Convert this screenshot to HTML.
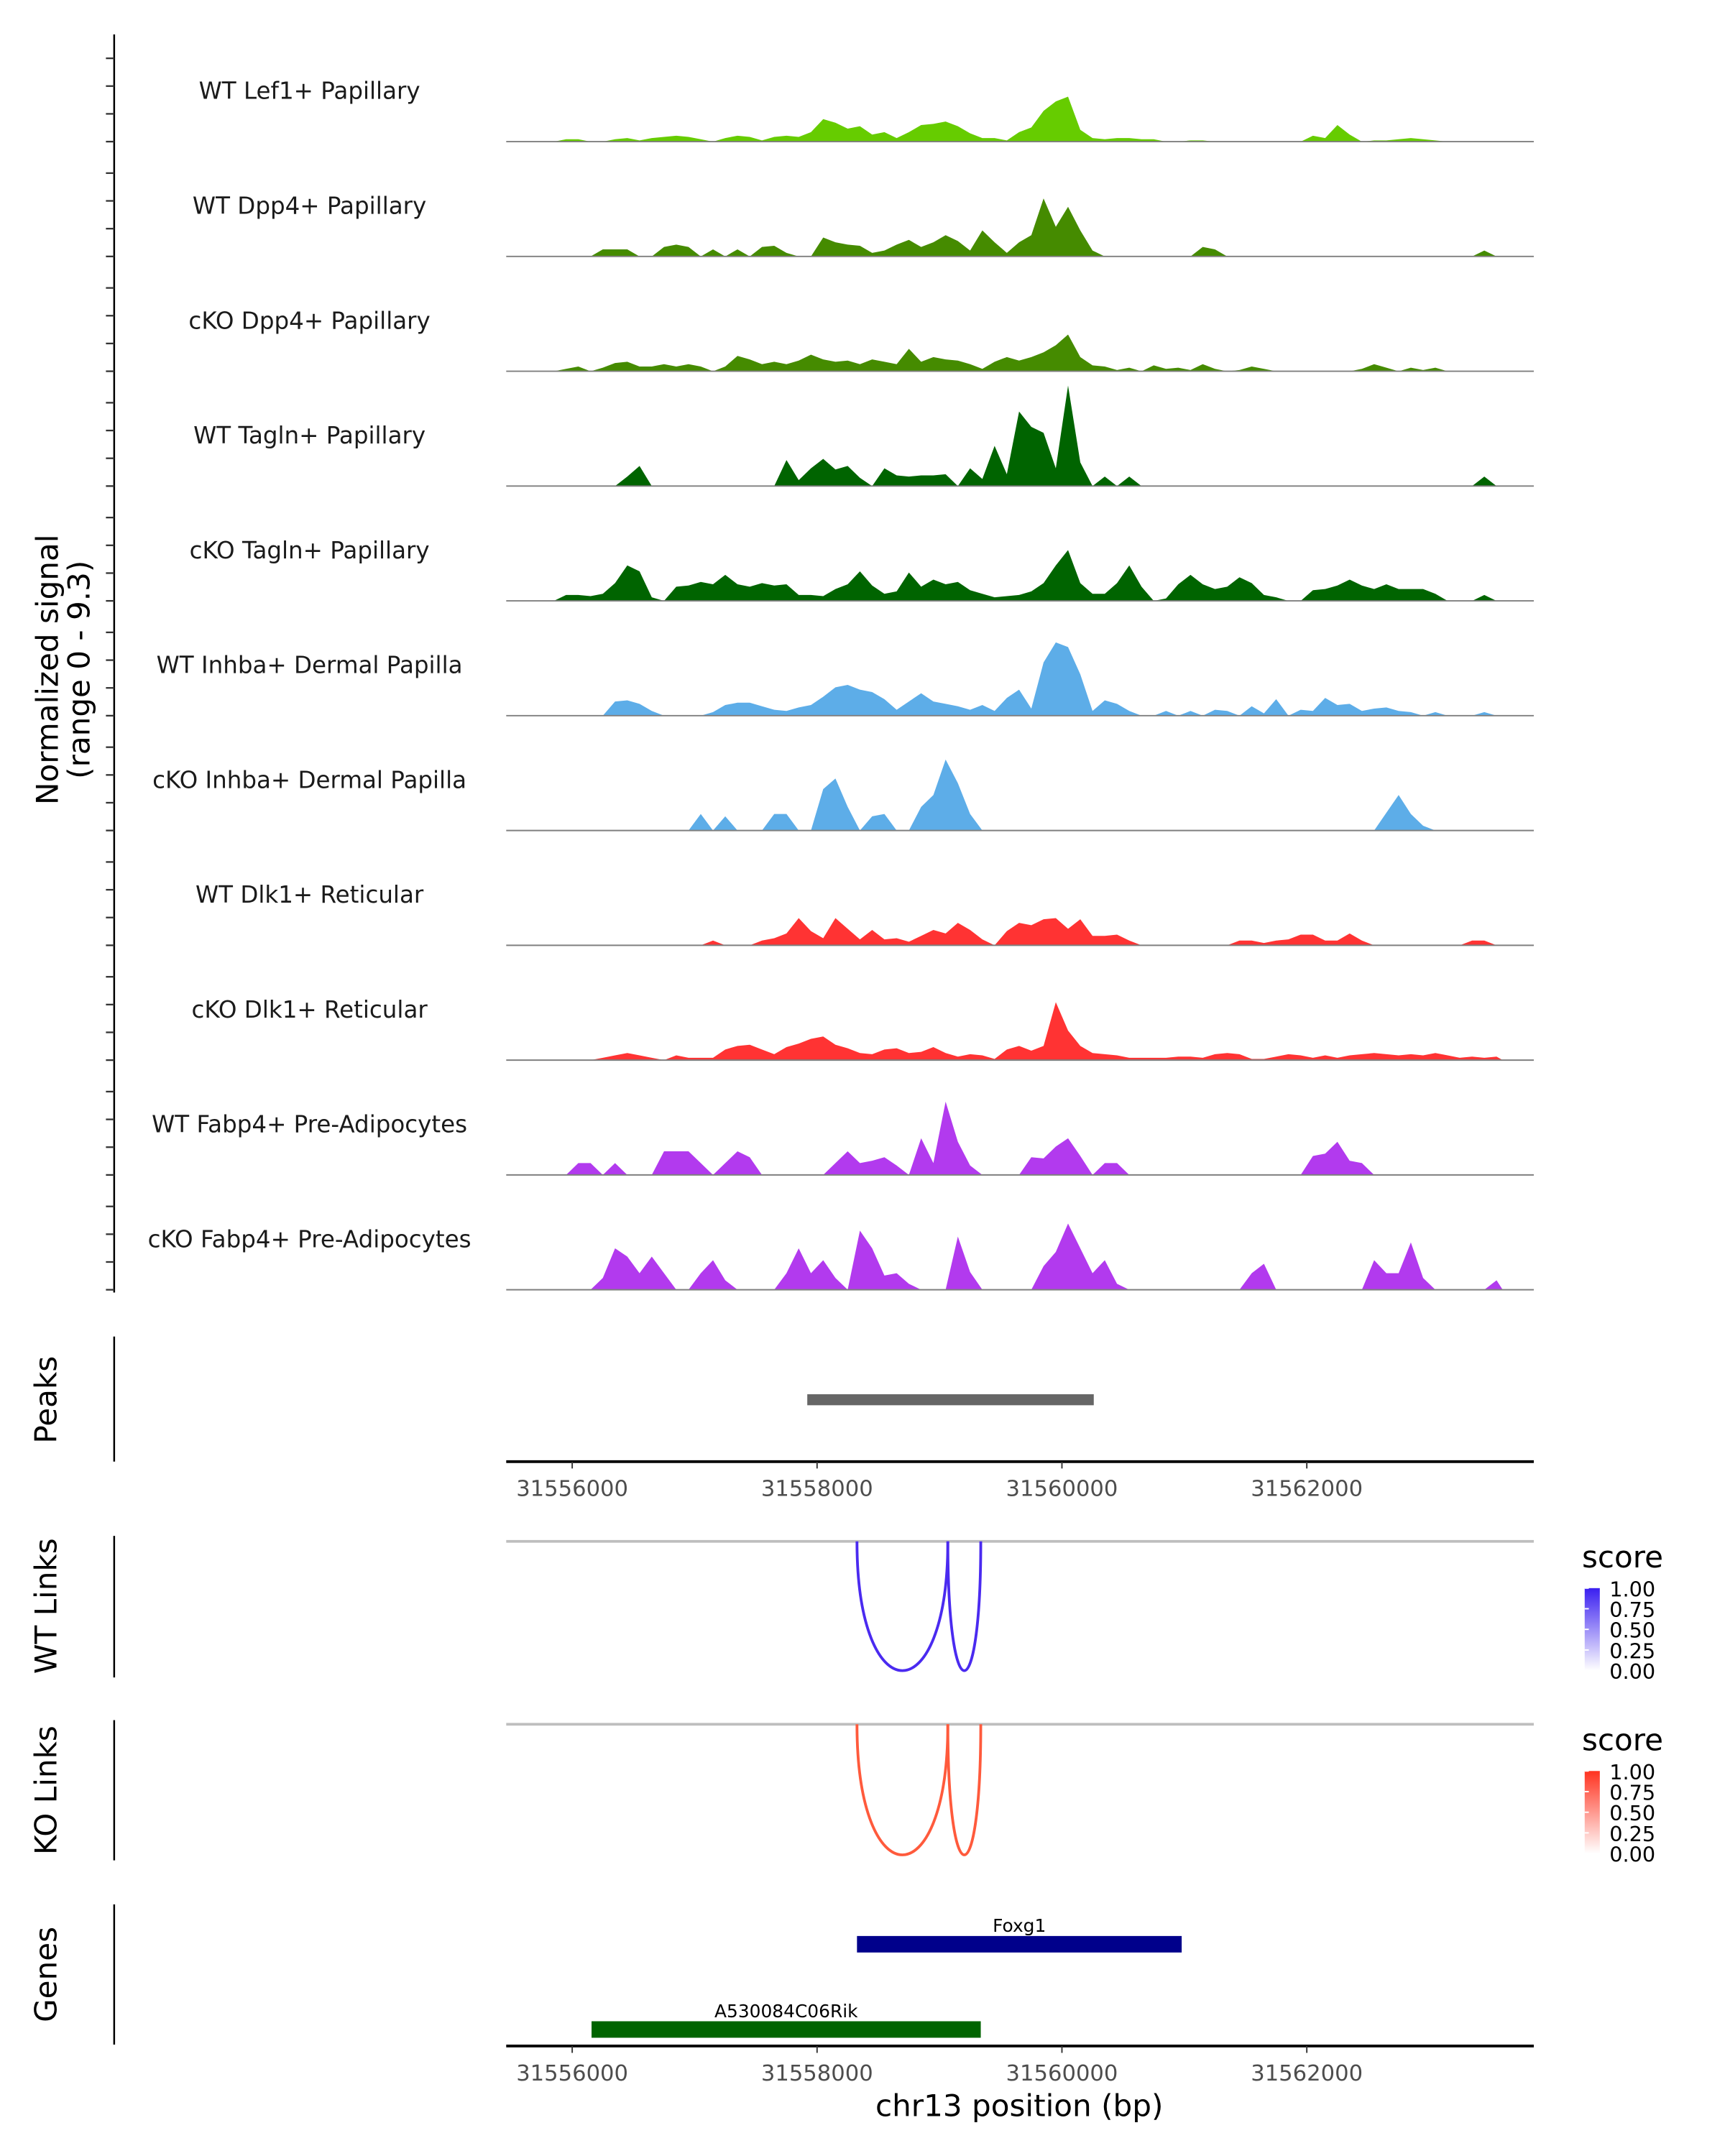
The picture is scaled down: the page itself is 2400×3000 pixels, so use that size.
<!DOCTYPE html>
<html><head><meta charset="utf-8"><style>
html,body{margin:0;padding:0;background:#fff;}
svg{display:block;font-family:"DejaVu Sans","Liberation Sans",sans-serif;}
</style></head>
<body>
<svg id="chart" width="2400" height="3000" viewBox="0 0 1254 1568" preserveAspectRatio="none" xmlns="http://www.w3.org/2000/svg">
<defs>
<linearGradient id="gBlue" x1="0" y1="1" x2="0" y2="0"><stop offset="0" stop-color="#ffffff"/><stop offset="1" stop-color="#3a1ff0"/></linearGradient>
<linearGradient id="gRed" x1="0" y1="1" x2="0" y2="0"><stop offset="0" stop-color="#ffffff"/><stop offset="1" stop-color="#ff3320"/></linearGradient>
</defs>
<g id="tracks"></g>
<g id="lower"></g>
</svg>
<script>
// ---- data ----
const trackLabels = ["WT Lef1+ Papillary","WT Dpp4+ Papillary","cKO Dpp4+ Papillary","WT Tagln+ Papillary","cKO Tagln+ Papillary","WT Inhba+ Dermal Papilla","cKO Inhba+ Dermal Papilla","WT Dlk1+ Reticular","cKO Dlk1+ Reticular","WT Fabp4+ Pre-Adipocytes","cKO Fabp4+ Pre-Adipocytes"];
const trackColors = ["#66cc00","#458b00","#458b00","#006400","#006400","#5dade8","#5dade8","#ff3333","#ff3333","#b23aee","#b23aee"];
const binStart = 31555800;
const binSize = 100;
const lef1WT = [0,.2,.2,0,0,.2,.3,.1,.3,.4, .5,.4,.2,0,.3,.5,.4,.1,.4,.5, .4,.8,1.9,1.6,1.1,1.3,.6,.8,.3,.8, 1.4,1.5,1.7,1.3,.7,.3,.3,.1,.8,1.2, 2.6,3.4,3.8,1.0,.3,.2,.3,.3,.2,.2, 0,0,.1,.1,0,0,0,0,0,0, 0,0,.5,.3,1.4,.6,0,.1,.1,.2, .3,.2,.1,0,0,0,0,0];
const dpp4WT = [0,0,0,0,.6,.6,.6,0,0,.8, 1,.8,0,.6,0,.6,0,.8,.9,.3, 0,0,1.6,1.2,1.0,.9,.3,.5,1.0,1.4, .8,1.2,1.8,1.3,.5,2.2,1.2,.3,1.2,1.8, 4.9,2.5,4.2,2.2,.5,0,0,0,0,0, 0,0,0,.8,.6,0,0,0,0,0, 0,0,0,0,0,0,0,0,0,0, 0,0,0,0,0,0,.5,0];
const dpp4KO = [0,.2,.4,0,.3,.7,.8,.4,.4,.6, .4,.6,.4,0,.4,1.3,1.0,.6,.8,.6, .9,1.4,1.0,.8,.9,.6,1.0,.8,.6,1.9, .8,1.2,1.0,.9,.6,.2,.8,1.2,.9,1.2, 1.6,2.2,3.1,1.2,.5,.4,.1,.3,0,.5, .2,.3,.1,.6,.2,0,.1,.4,.2,0, 0,0,0,0,0,0,.2,.6,.3,0, .3,.1,.3,0,0,0,0,0];
const taglnWT = [0,0,0,0,0,0,.8,1.7,0,0, 0,0,0,0,0,0,0,0,0,2.2, .5,1.5,2.3,1.4,1.7,.7,0,1.5,.9,.8, .9,.9,1.0,0,1.5,.6,3.4,1.0,6.3,5.0, 4.5,1.5,8.5,2.0,0,.8,0,.8,0,0, 0,0,0,0,0,0,0,0,0,0, 0,0,0,0,0,0,0,0,0,0, 0,0,0,0,0,0,.8,0];
const taglnKO = [0,.5,.5,.4,.6,1.5,3.0,2.5,.3,0, 1.2,1.3,1.6,1.4,2.2,1.4,1.2,1.5,1.3,1.4, .5,.5,.4,1.0,1.4,2.5,1.3,.6,.8,2.4, 1.2,1.8,1.4,1.6,.9,.6,.3,.4,.5,.8, 1.5,3.0,4.3,1.5,.6,.6,1.5,3.0,1.2,0, .2,1.4,2.2,1.4,1.0,1.2,2.0,1.5,.5,.3, 0,0,.9,1.0,1.3,1.8,1.3,1.0,1.4,1.0, 1.0,1.0,.6,0,0,0,.5,0];
const inhbaWT = [0,0,0,0,0,1.2,1.3,1.0,.4,0, 0,0,0,.3,.9,1.1,1.1,.8,.5,.4, .7,.9,1.6,2.4,2.6,2.2,2.0,1.4,.5,1.2, 1.9,1.2,1.0,.8,.5,.9,.4,1.5,2.2,.6, 4.5,6.2,5.8,3.5,.4,1.3,1.0,.4,0,0, .4,0,.4,0,.5,.4,0,.8,.2,1.4, 0,.5,.4,1.5,.9,1.0,.4,.6,.7,.4, .3,0,.3,0,0,0,.3,0];
const inhbaKO = [0,0,0,0,0,0,0,0,0,0, 0,0,1.4,0,1.2,0,0,0,1.4,1.4, 0,0,3.5,4.4,2.0,0,1.2,1.4,0,0, 2.0,3.0,6.0,4.0,1.4,0,0,0,0,0, 0,0,0,0,0,0,0,0,0,0, 0,0,0,0,0,0,0,0,0,0, 0,0,0,0,0,0,0,0,1.5,3.0, 1.4,.4,0,0,0,0,0,0];
const dlk1WT = [0,0,0,0,0,0,0,0,0,0, 0,0,0,.4,0,0,0,.4,.6,1.0, 2.3,1.2,.6,2.3,1.4,.5,1.3,.5,.6,.3, .8,1.3,1.0,1.9,1.3,.5,0,1.2,1.9,1.7, 2.2,2.3,1.4,2.2,.8,.8,.9,.4,0,0, 0,0,0,0,0,0,.4,.4,.2,.4, .5,.9,.9,.4,.4,1.0,.4,0,0,0, 0,0,0,0,0,.4,.4,0];
const dlk1KO = [0,0,0,0,.2,.4,.6,.4,.2,0, .4,.2,.2,.2,.9,1.2,1.3,.9,.5,1.1, 1.4,1.8,2.0,1.3,1.0,.6,.5,.9,1.0,.6, .7,1.1,.6,.3,.5,.4,.1,.9,1.2,.8, 1.2,4.9,2.5,1.2,.6,.5,.4,.2,.2,.2, .2,.3,.3,.2,.5,.6,.5,.1,.1,.3, .5,.4,.2,.4,.2,.4,.5,.6,.5,.4, .5,.4,.6,.4,.2,.3,.2,.3];
const fabp4WT = [0,0,1.0,1.0,0,1.0,0,0,0,2.0, 2.0,2.0,1.0,0,1.0,2.0,1.5,0,0,0, 0,0,0,1.0,2.0,1.0,1.2,1.5,.8,0, 3.1,1.0,6.2,2.8,.8,0,0,0,0,1.5, 1.4,2.4,3.1,1.6,0,1.0,1.0,0,0,0, 0,0,0,0,0,0,0,0,0,0, 0,0,1.6,1.8,2.8,1.2,1.0,0,0,0, 0,0,0,0,0,0,0,0];
const fabp4KO = [0,0,0,0,1.0,3.5,2.8,1.4,2.8,1.4, 0,0,1.4,2.5,.8,0,0,0,0,1.4, 3.5,1.4,2.5,1.0,0,5.0,3.5,1.2,1.4,.5, 0,0,0,4.5,1.5,0,0,0,0,0, 2.0,3.2,5.6,3.5,1.4,2.5,.5,0,0,0, 0,0,0,0,0,0,0,1.4,2.2,0, 0,0,0,0,0,0,0,2.5,1.4,1.4, 4.0,1.0,0,0,0,0,0,.8];
const trackValues = [lef1WT,dpp4WT,dpp4KO,taglnWT,taglnKO,inhbaWT,inhbaKO,dlk1WT,dlk1KO,fabp4WT,fabp4KO];
const xTicks = [31556000,31558000,31560000,31562000];
const peakStarts = [31557920];
const peakEnds = [31560260];
const wtLinkStarts = [31558326,31559068];
const wtLinkEnds = [31559068,31559337];
const koLinkStarts = [31558326,31559068];
const koLinkEnds = [31559068,31559337];
const geneNames = ["Foxg1","A530084C06Rik"];
const geneStarts = [31558326,31556158];
const geneEnds = [31560978,31559337];
const legendTicks = ["1.00","0.75","0.50","0.25","0.00"];

// ---- scales ----
const X0 = 368, X1 = 1115, D0 = 31555461, D1 = 31563854;
function xs(bp){ return X0 + (bp - D0) * (X1 - X0) / (D1 - D0); }
const YMAX = 9.3, TRACK_H = 80;
function ys(base, v){ return base - v / YMAX * TRACK_H; }
const NS = "http://www.w3.org/2000/svg";
function mk(tag, attrs, parent){ const e = document.createElementNS(NS, tag); for (const k in attrs) e.setAttribute(k, attrs[k]); parent.appendChild(e); return e; }

const g = document.getElementById('tracks');
const lower = document.getElementById('lower');

const ax = mk('line', {x1:83, y1:25, x2:83, y2:940, stroke:'#000', 'stroke-width':1.3}, g);



const baseline0 = 103, step = 83.5;
trackValues.forEach((vals, t) => {
  const base = baseline0 + t * step;
  for (let k = 0; k < 4; k++) {
    const tk = mk('line', {x1:77, x2:83, y1:base - k*20.2, y2:base - k*20.2, stroke:'#333', 'stroke-width':1.2}, g);
    
    
  }
  let d = 'M' + xs(binStart).toFixed(2) + ',' + base;
  vals.forEach((v, i) => {
    d += ' L' + xs(binStart + binSize*i + binSize/2).toFixed(2) + ',' + ys(base, v).toFixed(2);
  });
  d += ' L' + xs(binStart + binSize*vals.length).toFixed(2) + ',' + base + ' Z';
  const area = mk('path', {d:d, fill:trackColors[t]}, g);
  
  
  const bl = mk('line', {x1:X0, x2:X1, y1:base, y2:base, stroke:'#7f7f7f', 'stroke-width':1}, g);
  
  
  const lb = mk('text', {x:225, y:base - 31, 'text-anchor':'middle', 'font-size':17, fill:'#1a1a1a'}, g);
  lb.textContent = trackLabels[t];
  
  
});

function rtitle(txt, x, y, size, name){
  const t = mk('text', {x:0, y:0, transform:'translate('+x+','+y+') rotate(-90)', 'text-anchor':'middle', 'font-size':size, fill:'#000'}, lower);
  t.textContent = txt;
  
  
}
rtitle('Normalized signal', 42, 487, 22, 'y-axis-title');
rtitle('(range 0 - 9.3)', 65, 487, 22, 'y-axis-subtitle');
rtitle('Peaks', 41, 1018, 22, 'peaks-title');
rtitle('WT Links', 41, 1168, 22, 'wt-links-title');
rtitle('KO Links', 41, 1302, 22, 'ko-links-title');
rtitle('Genes', 41, 1436, 22, 'genes-title');

function vline(y1, y2, name){
  const l = mk('line', {x1:83, x2:83, y1:y1, y2:y2, stroke:'#000', 'stroke-width':1.3}, lower);
  
  
}
vline(972, 1063, 'peaks-axis-line');
vline(1117, 1220, 'wt-links-axis-line');
vline(1251, 1353, 'ko-links-axis-line');
vline(1385, 1487, 'genes-axis-line');

peakStarts.forEach((s, i) => {
  const r = mk('rect', {x:xs(s), y:1014, width:xs(peakEnds[i]) - xs(s), height:8, fill:'#666666'}, lower);
  
  
});

function xaxis(y, name){
  const l = mk('line', {x1:X0, x2:X1, y1:y, y2:y, stroke:'#000', 'stroke-width':2}, lower);
  
  
  xTicks.forEach(v => {
    const tk = mk('line', {x1:xs(v), x2:xs(v), y1:y, y2:y + 5, stroke:'#333', 'stroke-width':1}, lower);
    
    
    const tl = mk('text', {x:xs(v), y:y + 25, 'text-anchor':'middle', 'font-size':16, fill:'#4d4d4d'}, lower);
    tl.textContent = String(v);
    
    
  });
}
xaxis(1063, 'peaks-x-axis');
xaxis(1488, 'genes-x-axis');
const xt = mk('text', {x:741, y:1539, 'text-anchor':'middle', 'font-size':22, fill:'#000'}, lower);
xt.textContent = 'chr13 position (bp)';



function links(starts, ends, top, bottom, color, grad, name){
  const gl = mk('line', {x1:X0, x2:X1, y1:top, y2:top, stroke:'#bebebe', 'stroke-width':2}, lower);
  
  
  starts.forEach((s, i) => {
    const a = xs(s), b = xs(ends[i]);
    const yc = top + (bottom - top) / 0.75;
    const p = mk('path', {d:'M'+a+','+top+' C'+a+','+yc+' '+b+','+yc+' '+b+','+top, fill:'none', stroke:color, 'stroke-width':2}, lower);
    
    
  });
  const lt = mk('text', {x:1150, y:top + 19, 'font-size':22, fill:'#000'}, lower);
  lt.textContent = 'score';
  
  
  const by0 = top + 34, by1 = top + 94;
  const bar = mk('rect', {x:1152, y:by0, width:11, height:by1 - by0, fill:'url(#' + grad + ')'}, lower);
  
  
  legendTicks.forEach((lbl, i) => {
    const y = by0 + i * (by1 - by0) / (legendTicks.length - 1);
    const tk = mk('line', {x1:1152, x2:1155, y1:y, y2:y, stroke:'#fff', 'stroke-width':1}, lower);
    
    
    const t = mk('text', {x:1170, y:y + 6, 'font-size':15, fill:'#000'}, lower);
    t.textContent = lbl;
    
    
  });
}
links(wtLinkStarts, wtLinkEnds, 1121, 1215, '#4a2af0', 'gBlue', 'wt-links');
links(koLinkStarts, koLinkEnds, 1254, 1349, '#ff5a3c', 'gRed', 'ko-links');

const geneY = [1408, 1470];
const geneColors = ['#00008b', '#006400'];
geneNames.forEach((n, i) => {
  const a = xs(geneStarts[i]), b = xs(geneEnds[i]);
  const r = mk('rect', {x:a, y:geneY[i], width:b - a, height:12, fill:geneColors[i]}, lower);
  
  
  const t = mk('text', {x:(a + b) / 2, y:geneY[i] - 3, 'text-anchor':'middle', 'font-size':13, fill:'#000'}, lower);
  t.textContent = n;
  
  
});
</script>
</body></html>
